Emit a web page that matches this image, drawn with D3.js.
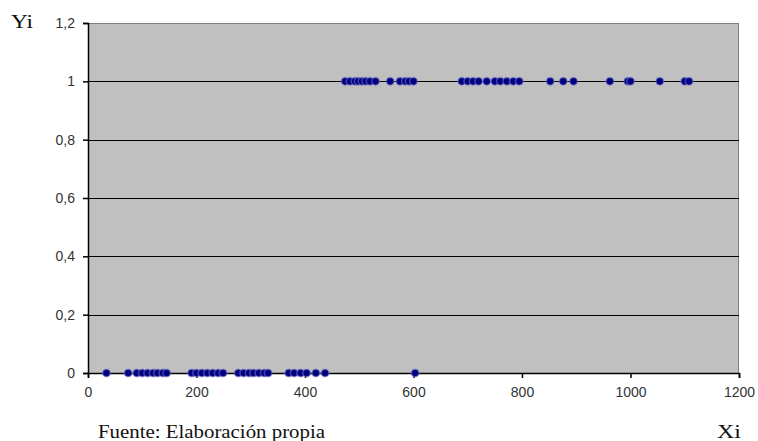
<!DOCTYPE html>
<html><head><meta charset="utf-8">
<script src="https://cdn.jsdelivr.net/npm/d3@7"></script>
<style>body{margin:0;background:#fff}svg{display:block}</style>
</head><body>
<script>
const xOnes = [474, 483, 492, 498, 505, 512, 520, 530, 557, 575, 585, 592, 600, 689, 700, 710, 720, 735, 750, 760, 772, 784, 795, 852, 876, 895, 962, 995, 1000, 1054, 1100, 1108];
const xZeros = [34, 74, 90, 100, 110, 120, 128, 138, 145, 191, 200, 210, 220, 230, 240, 249, 277, 287, 297, 305, 315, 325, 332, 370, 380, 392, 403, 420, 437, 603];
const yTicks = [0, 0.2, 0.4, 0.6, 0.8, 1, 1.2];
const xTicks = [0, 200, 400, 600, 800, 1000, 1200];
const yLabels = ["0", "0,2", "0,4", "0,6", "0,8", "1", "1,2"];

const W = 758, H = 441;
const L = 88, R = 739, T = 23, B = 373;
const svg = d3.select("body").append("svg").attr("width", W).attr("height", H);
const x = d3.scaleLinear().domain([0, 1200]).range([L, R]);
const y = d3.scaleLinear().domain([0, 1.2]).range([B, T]);

svg.append("rect").attr("x", L).attr("y", T).attr("width", R - L).attr("height", B - T)
  .attr("fill", "#c0c0c0");
svg.append("line").attr("x1", L).attr("x2", R).attr("y1", T + 0.5).attr("y2", T + 0.5).attr("stroke", "#808080");
svg.append("line").attr("x1", R - 0.5).attr("x2", R - 0.5).attr("y1", T).attr("y2", B).attr("stroke", "#808080");

svg.selectAll(".grid").data(yTicks.filter(d => d > 0 && d < 1.2)).enter().append("line")
  .attr("x1", L).attr("x2", R).attr("y1", d => Math.round(y(d)) + 0.5).attr("y2", d => Math.round(y(d)) + 0.5)
  .attr("stroke", "#000").attr("stroke-width", 1.2);

const yAxis = d3.axisLeft(y).tickValues(yTicks).tickSize(5).tickPadding(8)
  .tickFormat((d, i) => yLabels[i]);
const gy = svg.append("g").attr("transform", `translate(${L},0)`).call(yAxis);
gy.select(".domain").attr("stroke", "#000").attr("stroke-width", 1.5);
gy.selectAll(".tick line").attr("stroke", "#000").attr("stroke-width", 1.5);
gy.selectAll(".tick text").attr("font-family", "Liberation Sans, Arial, sans-serif").attr("font-size", 14).attr("fill", "#333");

const xAxis = d3.axisBottom(x).tickValues(xTicks).tickSize(5).tickPadding(9).tickFormat(d3.format("d"));
const gx = svg.append("g").attr("transform", `translate(0,${B})`).call(xAxis);
gx.select(".domain").attr("stroke", "#000").attr("stroke-width", 1.5);
gx.selectAll(".tick line").attr("stroke", "#000").attr("stroke-width", 1.5);
gx.selectAll(".tick text").attr("font-family", "Liberation Sans, Arial, sans-serif").attr("font-size", 14).attr("fill", "#333");

const pts = xZeros.map(v => ({x: v, y: 0})).concat(xOnes.map(v => ({x: v, y: 1})));
svg.append("g").selectAll("circle").data(pts).enter().append("circle")
  .attr("cx", d => x(d.x)).attr("cy", d => y(d.y)).attr("r", 3.8)
  .attr("fill", "#000080").attr("stroke", "#8080d0").attr("stroke-opacity", 0.5).attr("stroke-width", 1.5);

const serif = "Liberation Serif, Times New Roman, serif";
svg.append("text").attr("x", 11).attr("y", 28).attr("font-family", serif).attr("font-size", 19).attr("fill", "#111")
  .attr("textLength", 22).attr("lengthAdjust", "spacingAndGlyphs").text("Yi");
svg.append("text").attr("x", 717).attr("y", 438).attr("font-family", serif).attr("font-size", 19).attr("fill", "#111")
  .attr("textLength", 24).attr("lengthAdjust", "spacingAndGlyphs").text("Xi");
svg.append("text").attr("x", 98).attr("y", 438).attr("font-family", serif).attr("font-size", 19).attr("fill", "#111")
  .attr("textLength", 227).attr("lengthAdjust", "spacingAndGlyphs").text("Fuente: Elaboración propia");
</script>
</body></html>
